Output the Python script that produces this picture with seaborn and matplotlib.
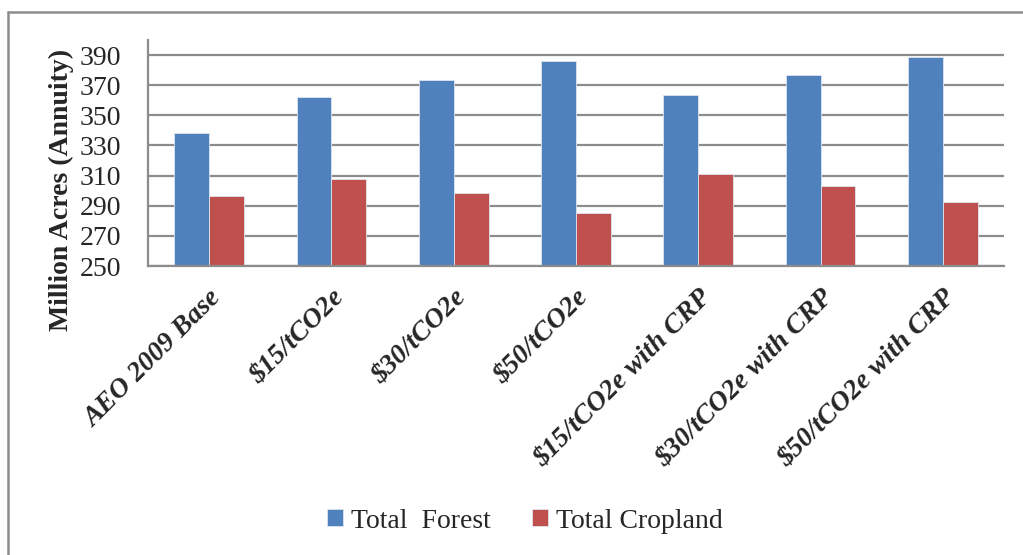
import numpy as np
import pandas as pd
import matplotlib
matplotlib.use("Agg")
import matplotlib.pyplot as plt
from matplotlib.lines import Line2D
import seaborn as sns

# values
scenarios = ["AEO 2009 Base", "$15/tCO2e", "$30/tCO2e", "$50/tCO2e",
             "$15/tCO2e with CRP", "$30/tCO2e with CRP", "$50/tCO2e with CRP"]
forest = [338.2, 362.4, 373.3, 386.0, 363.7, 376.6, 388.9]
cropland = [296.2, 307.6, 298.3, 285.2, 311.1, 302.9, 292.7]
series = ["Total  Forest", "Total Cropland"]
colors = ["#4F81BD", "#C0504D"]
yticks = [250, 270, 290, 310, 330, 350, 370, 390]

df = pd.DataFrame({
    "scenario": scenarios * 2,
    "value": forest + cropland,
    "series": [series[0]] * len(scenarios) + [series[1]] * len(scenarios),
})

sns.set_style("white")
plt.rcParams["font.family"] = ["Liberation Serif", "DejaVu Serif"]
FS = 20

fig = plt.figure(figsize=(10.23, 5.55), dpi=100)
ax = fig.add_axes([148 / 1023, 1 - 266 / 555, (1004 - 148) / 1023, (266 - 40) / 555])

sns.barplot(data=df, x="scenario", y="value", hue="series", order=scenarios,
            hue_order=series, palette=colors, width=0.57, gap=0,
            edgecolor="#dde4ee", linewidth=0.6, saturation=1, ax=ax, legend=True)

ax.set_ylim(250, 400)
ax.set_xlim(-0.5, len(scenarios) - 0.5)
ax.set_yticks(yticks)
ax.yaxis.grid(True, color="#8c8c8c", linewidth=1.6)
ax.set_axisbelow(True)
for side in ["top", "right"]:
    ax.spines[side].set_visible(False)
for side in ["left", "bottom"]:
    ax.spines[side].set_color("#8c8c8c")
    ax.spines[side].set_linewidth(1.6)

ax.tick_params(axis="y", length=5.5, width=1.4, color="#8c8c8c", pad=14)
ax.set_yticklabels([str(t) for t in yticks], fontsize=FS)

# x tick marks between categories, labels on the categories
ax.set_xticks(np.arange(-0.5, len(scenarios), 1.0), minor=True)
ax.tick_params(axis="x", which="minor", length=5.5, width=1.4, color="#8c8c8c")
ax.tick_params(axis="x", which="major", length=0, pad=14)
ax.set_xticks(range(len(scenarios)))
ax.set_xticklabels(scenarios, rotation=45, ha="right", rotation_mode="anchor",
                   fontsize=FS, fontweight="bold", fontstyle="italic")
ax.set_xlabel("")
ax.set_ylabel("Million Acres (Annuity)", fontsize=FS, fontweight="bold")
ax.yaxis.set_label_coords(-0.087, 0.336)

ax.legend(loc="center", bbox_to_anchor=(525 / 1023, 1 - 521 / 555),
          bbox_transform=fig.transFigure, ncol=2, frameon=False, fontsize=FS,
          handlelength=0.55, handleheight=0.55, handletextpad=0.3, columnspacing=1.5)

# chart frame (cropped: only left and top edges visible)
fig.add_artist(Line2D([8 / 1023, 8 / 1023], [0, 1 - 12 / 555],
                      transform=fig.transFigure, color="#8c8c8c", linewidth=1.8))
fig.add_artist(Line2D([8 / 1023, 1], [1 - 12 / 555, 1 - 12 / 555],
                      transform=fig.transFigure, color="#8c8c8c", linewidth=1.8))

fig.savefig("out.png", dpi=100)
